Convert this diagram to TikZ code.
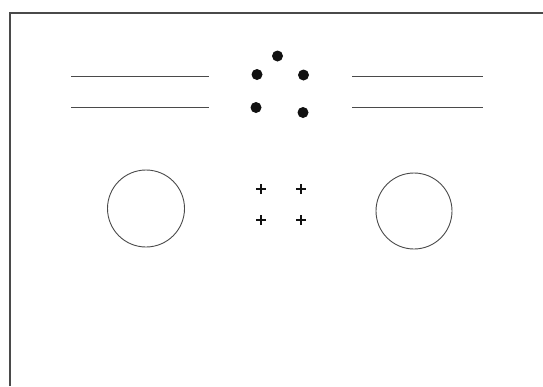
\documentclass[tikz,border=0pt]{standalone}
\usepackage{xcolor}
\usepackage{tikz}
\definecolor{plateline}{HTML}{4A4A4A}
\definecolor{platedot}{HTML}{111111}

\begin{document}
\begin{tikzpicture}[x=1pt, y=-1pt,
    slitline/.style={draw=plateline, line width=1pt},
    hole/.style={circle, draw=plateline, line width=0.9pt, minimum size=77pt, inner sep=0pt},
    bead/.style={circle, fill=platedot, minimum size=11pt, inner sep=0pt},
    pinstroke/.style={draw=platedot, line width=2.4pt}]
  \useasboundingbox (0,0) rectangle (543,386);
  % frame (top and left edge only)
  \coordinate (fl) at (10,386);
  \coordinate (fc) at (10,12.5);
  \coordinate (fr) at (543,12.5);
  \draw[line width=2pt, plateline] (fl) -- (fc) -- (fr);
  % slit lines
  \foreach \n/\xa/\xb/\y in {la/71/209/76,lb/71/209/107,ra/352/483/76,rb/352/483/107} {
    \coordinate (\n1) at (\xa,\y);
    \coordinate (\n2) at (\xb,\y);
    \draw[slitline] (\n1) -- (\n2);
  }
  % beads
  \foreach \n/\x/\y in {b1/277.5/56,b2/257/74.5,b3/303.5/75,b4/256/107.5,b5/303/112.5}
    \node[bead] (\n) at (\x,\y) {};
  % holes
  \node[hole] (hl) at (146,208.5) {};
  \node[hole, minimum size=76pt] (hr) at (414,211) {};
  % pins
  \foreach \n/\x/\y in {p1/261/189,p2/301/189,p3/261/220,p4/301/220} {
    \coordinate (\n) at (\x,\y);
    \draw[pinstroke] ([xshift=-5pt]\n) -- ([xshift=5pt]\n);
    \draw[pinstroke] ([yshift=-5pt]\n) -- ([yshift=5pt]\n);
  }
\end{tikzpicture}
\end{document}
